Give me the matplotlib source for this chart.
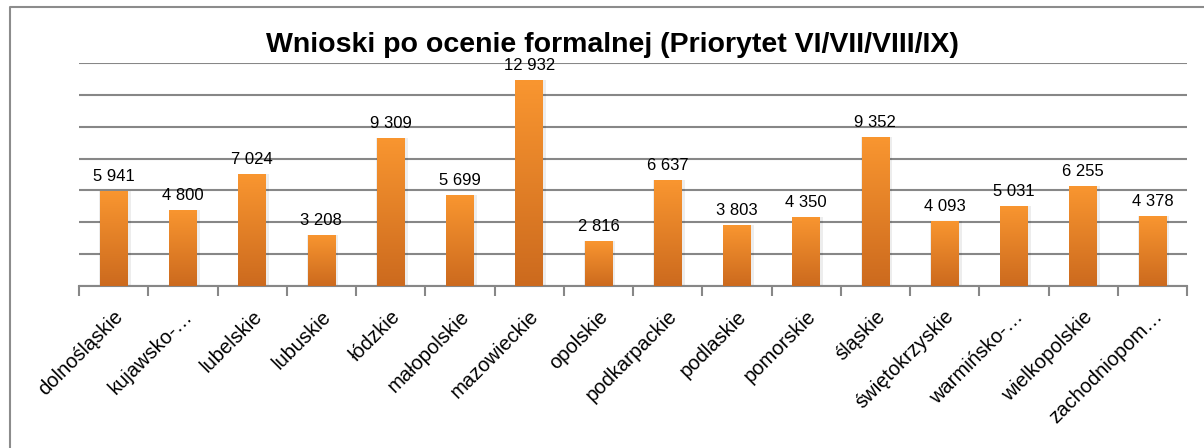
import numpy as np
import matplotlib
matplotlib.use("Agg")
import matplotlib.pyplot as plt
from matplotlib.colors import LinearSegmentedColormap
from matplotlib.lines import Line2D

# Data
regions = [
    "dolnośląskie", "kujawsko-…", "lubelskie", "lubuskie", "łódzkie",
    "małopolskie", "mazowieckie", "opolskie", "podkarpackie", "podlaskie",
    "pomorskie", "śląskie", "świętokrzyskie", "warmińsko-…", "wielkopolskie",
    "zachodniopom…",
]
values = [5941, 4800, 7024, 3208, 9309, 5699, 12932, 2816, 6637, 3803,
          4350, 9352, 4093, 5031, 6255, 4378]
title = "Wnioski po ocenie formalnej (Priorytet VI/VII/VIII/IX)"

plt.rcParams["font.family"] = ["Liberation Sans", "DejaVu Sans"]

fig = plt.figure(figsize=(12.04, 4.48), dpi=100)
ax = fig.add_axes([79 / 1204, 1 - 286 / 448, (1187 - 79) / 1204, (286 - 63) / 448])

x = np.arange(len(values))
bar_w = 0.40
cmap = LinearSegmentedColormap.from_list("orange", ["#cc6a1e", "#f99630"])
grad = np.linspace(0, 1, 256).reshape(-1, 1)

for xi, v in zip(x, values):
    bar = ax.bar(xi, v, width=bar_w, color="none", edgecolor="none", zorder=3)[0]
    # soft shadow
    ax.bar(xi + 0.02, v, width=bar_w + 0.05, color="#000000", alpha=0.07,
           edgecolor="none", zorder=2)
    im = ax.imshow(grad, cmap=cmap, aspect="auto", origin="lower",
                   extent=[xi - bar_w / 2, xi + bar_w / 2, 0, v], zorder=3)
    im.set_clip_path(bar)
    ax.annotate(f"{v:,}".replace(",", " "), (xi, v), xytext=(0, 5),
                textcoords="offset points", ha="center", va="bottom",
                fontsize=12, color="#000000")

ax.set_xlim(-0.5, len(values) - 0.5)
ax.set_ylim(0, 14000)
ax.set_yticks(np.arange(0, 14001, 2000))
ax.yaxis.grid(True, color="#878787", linewidth=1.5)
ax.set_axisbelow(True)
ax.tick_params(axis="y", left=False, labelleft=False)

ax.set_xticks(x)
ax.set_xticklabels(regions, rotation=45, ha="right", rotation_mode="anchor",
                   fontsize=14.5)
ax.tick_params(axis="x", which="major", length=0, pad=15)
ax.set_xticks(np.arange(-0.5, len(values), 1), minor=True)
ax.tick_params(axis="x", which="minor", length=7, width=1.5, color="#878787",
               direction="out")

for s in ["top", "right", "left"]:
    ax.spines[s].set_visible(False)
ax.spines["bottom"].set_color("#878787")
ax.spines["bottom"].set_linewidth(1.5)

fig.text(612 / 1204, 1 - 52 / 448, title, ha="center", va="baseline",
         fontsize=20.5, fontweight="bold")

# chart frame (left and top edges)
fig.add_artist(Line2D([9.5 / 1204, 9.5 / 1204, 1.0], [0, 1 - 7.5 / 448, 1 - 7.5 / 448],
                      color="#8c8c8c", linewidth=1.5, transform=fig.transFigure))

fig.savefig("out.png", dpi=100)
